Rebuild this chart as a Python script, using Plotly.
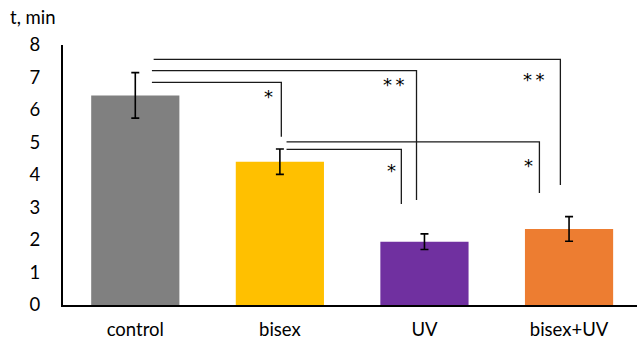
import plotly.graph_objects as go

# Group means and standard errors (time, minutes)
groups = ["control", "bisex", "UV", "bisex+UV"]
means = [6.45, 4.41, 1.95, 2.34]
errors = [0.70, 0.39, 0.24, 0.38]
bar_colors = ["#808080", "#FFC000", "#7030A0", "#ED7D31"]

# Significance brackets: x start, x end (category units), bracket level,
# level the right leg drops to, label, label position (x, y)
brackets = [
    (0.115, 1.010, 6.85, 5.18, "*", 0.92, 6.52),
    (0.115, 1.945, 7.21, 3.23, "*\u2009*", 1.79, 6.87),
    (0.127, 2.940, 7.56, 3.69, "*\u2009*", 2.76, 7.02),
    (1.046, 2.795, 5.02, 3.45, "*", 2.72, 4.38),
    (1.046, 1.840, 4.79, 3.11, "*", 1.77, 4.22),
]

FONT = "Lato"
STAR_FONT = "DejaVu Sans"

fig = go.Figure()
fig.add_trace(go.Bar(
    x=list(range(len(groups))),
    y=means,
    marker=dict(color=bar_colors, line=dict(width=0)),
    width=0.61,
    error_y=dict(type="data", array=errors, color="black", thickness=1.6, width=4),
    showlegend=False,
))

for x0, x1, lvl, drop, label, lx, ly in brackets:
    fig.add_trace(go.Scatter(
        x=[x0, x1, x1], y=[lvl, lvl, drop],
        mode="lines", line=dict(color="#1a1a1a", width=1.3),
        hoverinfo="skip", showlegend=False, cliponaxis=False,
    ))
    fig.add_annotation(x=lx, y=ly, text=label, showarrow=False, yshift=-3,
                       font=dict(family=STAR_FONT, size=18, color="black"))

fig.add_annotation(xref="paper", yref="paper", x=-55 / 574, y=1.0, yshift=28,
                   xanchor="left", yanchor="middle", text="t, min", showarrow=False,
                   font=dict(family=FONT, size=18.5, color="black"))

fig.update_layout(
    width=637, height=340,
    margin=dict(l=63, r=0, t=45, b=35),
    plot_bgcolor="white", paper_bgcolor="white",
    font=dict(family=FONT, size=18, color="black"),
    xaxis=dict(
        range=[-0.5, 3.47], automargin=False,
        tickmode="array", tickvals=list(range(len(groups))), ticktext=groups,
        showline=True, linecolor="black", linewidth=2,
        showgrid=False, zeroline=False, ticks="", ticklabelstandoff=7,
        tickfont=dict(family=FONT, size=18.5, color="black"),
    ),
    yaxis=dict(
        range=[0, 8], dtick=1, automargin=False,
        showline=True, linecolor="black", linewidth=2,
        showgrid=False, zeroline=False, ticks="", ticklabelstandoff=17,
        tickfont=dict(family=FONT, size=18.5, color="black"),
    ),
)

fig.write_html("out.html")
